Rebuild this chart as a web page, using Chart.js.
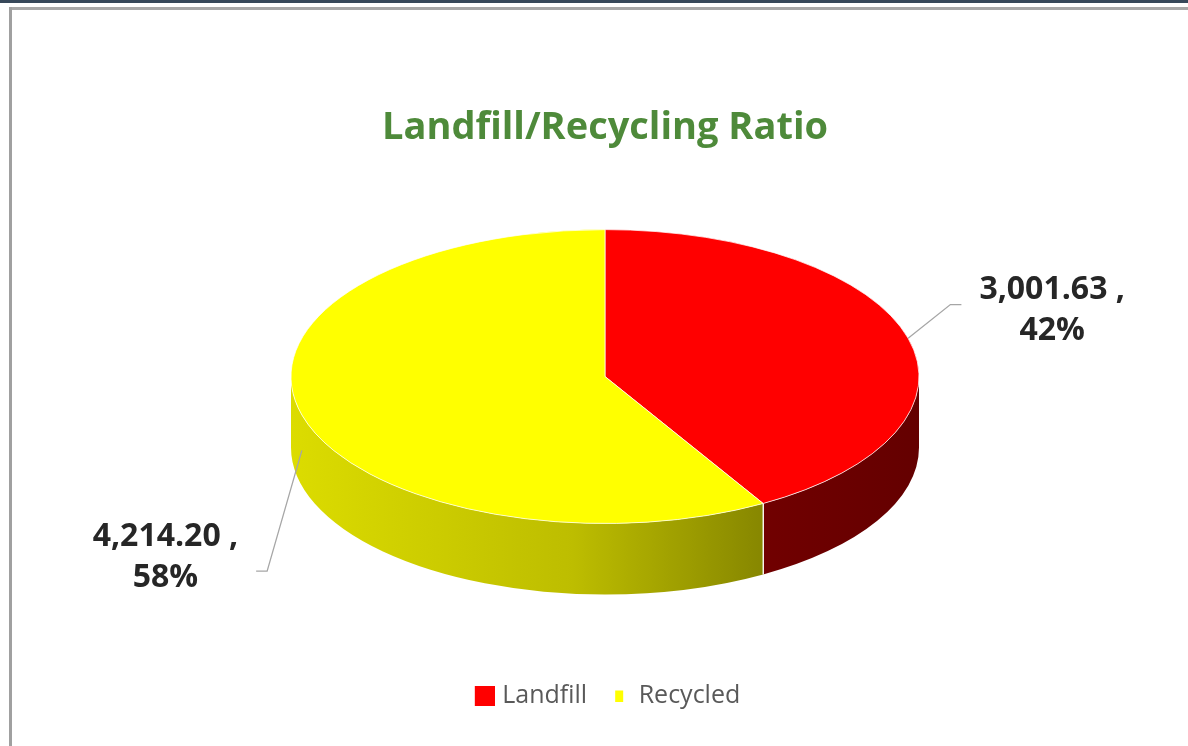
<!DOCTYPE html>
<html>
<head>
<meta charset="utf-8">
<title>Landfill/Recycling Ratio</title>
<script src="https://cdn.jsdelivr.net/npm/chart.js@4.4.1/dist/chart.umd.min.js"></script>
<style>
  html, body { margin: 0; padding: 0; background: #fff; }
  #wrap { position: relative; width: 1188px; height: 746px; overflow: hidden; background: #fff; }
  #chart { position: absolute; left: 0; top: 0; }
  .frame { position: absolute; }
  #topBar { left: 0; top: 0; width: 1188px; height: 3px; background: #37485a; }
  #topLine { left: 9px; top: 7px; width: 1179px; height: 3px; background: #a8a8a8; }
  #leftLine { left: 9px; top: 7px; width: 3px; height: 739px; background: #a0a0a0; }
</style>
</head>
<body>
<div id="wrap">
  <canvas id="chart" width="1188" height="746"></canvas>
  <div class="frame" id="topBar"></div>
  <div class="frame" id="topLine"></div>
  <div class="frame" id="leftLine"></div>
</div>
<script>
// data
const chartTitle = 'Landfill/Recycling Ratio';
const categories = ['Landfill', 'Recycled'];
const tonnes = [3001.63, 4214.20];

// look
const topColors = ['#ff0000', '#ffff00'];
const wallShades = [
  [[0, '#980000'], [1, '#640000']],
  [[0, '#dcdc00'], [0.45, '#bdbd00'], [1, '#5a5a00']]
];
// where each data label sits, relative to the pie centre, in radius units
const labelSpots = [[1.424, -0.21], [-1.40, 0.575]];
const tilt = 0.468;       // vertical squash of the top face
const depthRatio = 0.226; // wall height / radius

const fmt = v => v.toLocaleString('en-US', {minimumFractionDigits: 2, maximumFractionDigits: 2});

// legend markers: big square for landfill, small dot for recycled
function marker(w, h, color, rx, ry, rw, rh) {
  const cv = document.createElement('canvas');
  cv.width = w; cv.height = h;
  const c = cv.getContext('2d');
  c.fillStyle = color;
  c.fillRect(rx, ry, rw, rh);
  return cv;
}
const markers = [
  marker(30, 20, topColors[0], 10, 0, 20, 20),
  marker(20, 12, topColors[1], 9, 1, 8, 11)
];

const pie3d = {
  id: 'pie3d',
  beforeDatasetsDraw(chart) {
    const ctx = chart.ctx;
    const arcs = chart.getDatasetMeta(0).data;
    const {x, y, outerRadius: r} = arcs[0];
    const ry = r * tilt, depth = r * depthRatio;
    const cy = chart.chartArea.top + ry;
    chart.$pie = {x, cy, r, ry, depth};

    // side walls (only the front half is visible)
    arcs.forEach((arc, i) => {
      for (const shift of [-2 * Math.PI, 0, 2 * Math.PI]) {
        const a0 = Math.max(arc.startAngle + shift, 0);
        const a1 = Math.min(arc.endAngle + shift, Math.PI);
        if (a1 <= a0) continue;
        const g = ctx.createLinearGradient(x - r, 0, x + r, 0);
        wallShades[i].forEach(([o, c]) => g.addColorStop(o, c));
        ctx.beginPath();
        ctx.ellipse(x, cy, r, ry, 0, a0, a1);
        ctx.ellipse(x, cy + depth, r, ry, 0, a1, a0, true);
        ctx.closePath();
        ctx.fillStyle = g;
        ctx.fill();
        ctx.strokeStyle = '#ffffff';
        ctx.lineWidth = 1.2;
        [a0, a1].forEach(a => {
          if (a > 0.001 && a < Math.PI - 0.001) {
            ctx.beginPath();
            ctx.moveTo(x + r * Math.cos(a), cy + ry * Math.sin(a));
            ctx.lineTo(x + r * Math.cos(a), cy + depth + ry * Math.sin(a));
            ctx.stroke();
          }
        });
      }
    });

    // squash the top face
    ctx.save();
    ctx.translate(0, cy);
    ctx.scale(1, tilt);
    ctx.translate(0, -y);
  },
  afterDatasetsDraw(chart) {
    const ctx = chart.ctx;
    ctx.restore();
    const {x, cy, r, ry, depth} = chart.$pie;
    const arcs = chart.getDatasetMeta(0).data;
    const total = tonnes.reduce((a, b) => a + b, 0);

    ctx.save();
    ctx.font = 'bold 32px "Open Sans"';
    arcs.forEach((arc, i) => {
      const mid = (arc.startAngle + arc.endAngle) / 2;
      const s = Math.sin(mid), c = Math.cos(mid);
      const ax = x + r * c, ay = cy + ry * s + (s > 0 ? depth / 2 : 0);
      const lx = x + labelSpots[i][0] * r, ly = cy + labelSpots[i][1] * r;
      const lines = [fmt(tonnes[i]) + ' ,', Math.round(tonnes[i] / total * 100) + '%'];
      const w = Math.max(...lines.map(t => ctx.measureText(t).width));
      const side = lx > x ? -1 : 1;
      const ex = lx + side * (w / 2 + 18);
      const ey = ly + (s > 0 ? 14 : -6);

      ctx.strokeStyle = '#a6a6a6';
      ctx.lineWidth = 1.3;
      ctx.beginPath();
      ctx.moveTo(ax, ay);
      ctx.lineTo(ex + side * 11, ey);
      ctx.lineTo(ex, ey);
      ctx.stroke();

      ctx.fillStyle = '#262626';
      ctx.textAlign = 'center';
      ctx.textBaseline = 'middle';
      lines.forEach((t, k) => ctx.fillText(t, lx, ly + (k - 0.5) * 41));
    });
    ctx.restore();
  }
};

const pieOverrides = Chart.overrides.pie || Chart.overrides.doughnut;

new Chart(document.getElementById('chart'), {
  type: 'pie',
  data: {
    labels: categories,
    datasets: [{
      data: tonnes,
      backgroundColor: topColors,
      borderColor: '#ffffff',
      borderWidth: 1,
      radius: 314,
      hoverOffset: 0,
      clip: false
    }]
  },
  options: {
    responsive: false,
    animation: false,
    events: [],
    layout: {padding: {left: 22, bottom: 28}},
    plugins: {
      title: {
        display: true,
        text: chartTitle,
        color: '#4e8a3a',
        font: {family: 'Open Sans', size: 38, weight: 'bold'},
        padding: {top: 105, bottom: 79}
      },
      legend: {
        position: 'bottom',
        labels: {
          usePointStyle: true,
          boxWidth: 20,
          boxHeight: 20,
          padding: 19,
          color: '#595959',
          font: {family: 'Open Sans', size: 25},
          generateLabels(chart) {
            const items = pieOverrides.plugins.legend.labels.generateLabels(chart);
            items.forEach((it, i) => { it.pointStyle = markers[i]; it.lineWidth = 0; });
            return items;
          }
        }
      },
      tooltip: {enabled: false}
    }
  },
  plugins: [pie3d]
});
</script>
</body>
</html>
